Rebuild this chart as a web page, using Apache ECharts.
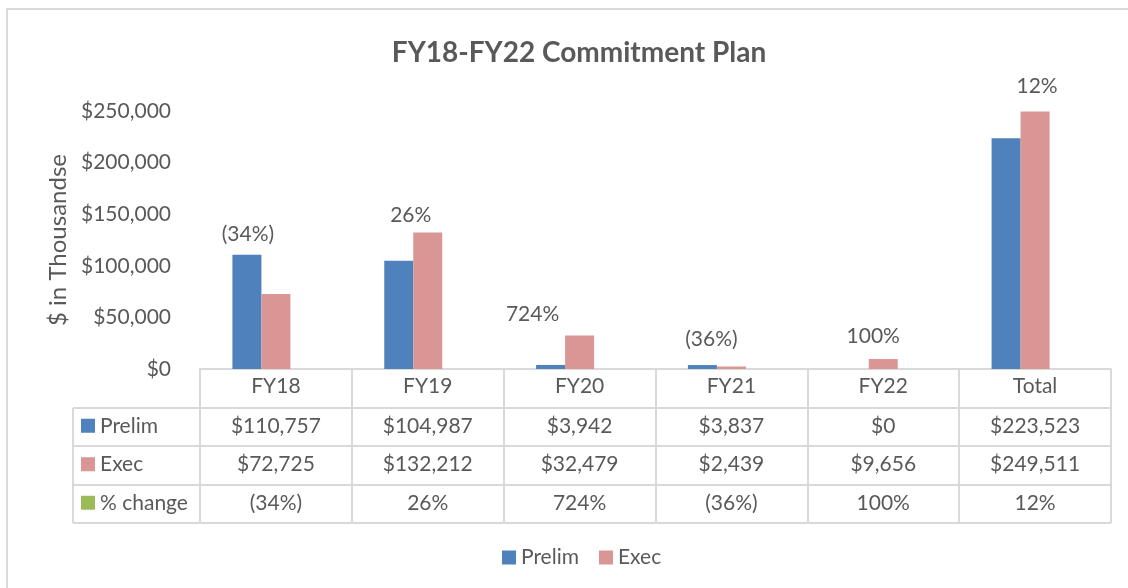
<!DOCTYPE html>
<html>
<head>
<meta charset="utf-8">
<script src="https://cdn.jsdelivr.net/npm/echarts@6/dist/echarts.min.js"></script>
<style>
  html, body { margin: 0; padding: 0; background: #fff; }
  #chart { width: 1128px; height: 588px; }
</style>
</head>
<body>
<div id="chart"></div>
<script>
// data
const categories = ['FY18', 'FY19', 'FY20', 'FY21', 'FY22', 'Total']
const prelim = [110757, 104987, 3942, 3837, 0, 223523]
const exec = [72725, 132212, 32479, 2439, 9656, 249511]
const pctChange = ['(34%)', '26%', '724%', '(36%)', '100%', '12%']
const yTicks = [0, 50000, 100000, 150000, 200000, 250000]

const FONT = 'Lato'
const TEXT = '#595959'
const LINE = '#D9D9D9'
const BLUE = '#4F81BD'
const PINK = '#D99694'
const GREEN = '#9BBB59'
const FS = 21

// grid box (the data table sits under it)
const G = { left: 200, right: 17, top: 111, bottom: 219 }
const ROW_H = 38.5
const KEY_LEFT = 73

// nudges for the hand-placed % labels (Excel drag), [dx, dy]
const pctOffset = [[-57, -5], [-46, -2], [-76, -6], [-49, -10], [-39, -7], [-27, -10]]

const fmt = v => '$' + v.toLocaleString('en-US')
const topOf = prelim.map((v, i) => Math.max(v, exec[i]))

const chart = echarts.init(document.getElementById('chart'))

const option = {
  animation: false,
  textStyle: { fontFamily: FONT },
  title: {
    text: 'FY18-FY22 Commitment Plan',
    left: 574,
    textAlign: 'center',
    top: 34,
    textStyle: { fontFamily: FONT, fontSize: 28, fontWeight: 'bold', color: TEXT }
  },
  legend: {
    bottom: 15,
    left: 497,
    itemWidth: 14,
    itemHeight: 14,
    itemGap: 20,
    icon: 'rect',
    data: ['Prelim', 'Exec'],
    textStyle: { fontFamily: FONT, fontSize: FS, color: TEXT }
  },
  grid: G,
  xAxis: {
    type: 'category',
    data: categories,
    axisLine: { lineStyle: { color: LINE, width: 2 } },
    axisTick: { show: true, length: ROW_H * 4, lineStyle: { color: LINE, width: 2 } },
    axisLabel: { fontFamily: FONT, fontSize: FS, color: TEXT, margin: 7 }
  },
  yAxis: {
    type: 'value',
    min: 0,
    max: 250000,
    interval: 50000,
    name: '$ in Thousandse',
    nameLocation: 'middle',
    nameGap: 122,
    nameTextStyle: { fontFamily: FONT, fontSize: 24, color: TEXT },
    splitLine: { show: false },
    axisLine: { show: false },
    axisTick: { show: false },
    axisLabel: {
      fontFamily: FONT, fontSize: FS, color: TEXT, margin: 29,
      formatter: v => yTicks.includes(v) ? fmt(v) : ''
    }
  },
  series: [
    { name: 'Prelim', type: 'bar', data: prelim, barWidth: 29, barGap: '0%', barCategoryGap: '43%',
      itemStyle: { color: BLUE } },
    { name: 'Exec', type: 'bar', data: exec, barWidth: 29, barGap: '0%',
      itemStyle: { color: PINK } },
    { name: '% change', type: 'bar', barWidth: 29, barGap: '0%',
      itemStyle: { color: 'rgba(0,0,0,0)' },
      data: topOf.map((v, i) => ({
        value: v,
        label: {
          show: true, position: 'top', offset: pctOffset[i],
          formatter: pctChange[i], fontFamily: FONT, fontSize: FS, color: TEXT
        }
      }))
    }
  ]
}
chart.setOption(option)

// data table under the axis, placed from the axis positions
function buildTable() {
  const yTop = chart.convertToPixel({ yAxisIndex: 0 }, 0)
  const right = 1128 - G.right
  const els = []
  const rows = [
    { name: 'Prelim', color: BLUE, cells: prelim.map(fmt) },
    { name: 'Exec', color: PINK, cells: exec.map(fmt) },
    { name: '% change', color: GREEN, cells: pctChange }
  ]
  // horizontal rules
  for (let r = 1; r <= 4; r++) {
    const y = Math.round(yTop + ROW_H * r)
    els.push({ type: 'line', shape: { x1: KEY_LEFT, y1: y, x2: right, y2: y },
      style: { stroke: LINE, lineWidth: 2 } })
  }
  // left edge of the key column
  els.push({ type: 'line',
    shape: { x1: KEY_LEFT, y1: Math.round(yTop + ROW_H), x2: KEY_LEFT, y2: Math.round(yTop + ROW_H * 4) },
    style: { stroke: LINE, lineWidth: 2 } })
  rows.forEach((row, r) => {
    const cy = yTop + ROW_H * (r + 1.5) - 1
    els.push({ type: 'rect', shape: { x: KEY_LEFT + 8, y: cy - 7, width: 14, height: 14 },
      style: { fill: row.color } })
    els.push({ type: 'text', x: KEY_LEFT + 27, y: cy,
      style: { text: row.name, font: FS + 'px ' + FONT, fill: TEXT, textVerticalAlign: 'middle' } })
    row.cells.forEach((t, c) => {
      const cx = chart.convertToPixel({ xAxisIndex: 0 }, categories[c])
      els.push({ type: 'text', x: cx, y: cy,
        style: { text: t, font: FS + 'px ' + FONT, fill: TEXT, textAlign: 'center', textVerticalAlign: 'middle' } })
    })
  })
  // outer chart border
  els.push({ type: 'rect', shape: { x: 7, y: 9, width: 1130, height: 600 },
    style: { fill: 'none', stroke: LINE, lineWidth: 2 } })
  chart.setOption({ graphic: els })
}
buildTable()
</script>
</body>
</html>
